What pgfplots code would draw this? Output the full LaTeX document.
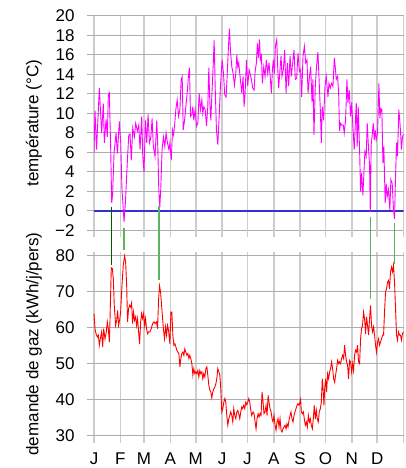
\documentclass[border=0pt]{standalone}
\usepackage{pgfplots}
\pgfplotsset{compat=1.18}
\usepackage{fontspec}
\setmainfont{Liberation Sans}
\definecolor{gridv}{RGB}{205,205,205}
\definecolor{gridh}{RGB}{172,172,172}
\definecolor{zeroblue}{RGB}{50,50,210}
\definecolor{lgreen}{RGB}{95,178,95}
\definecolor{dgreen}{RGB}{0,90,0}
\definecolor{mag}{RGB}{255,0,255}
\definecolor{rd}{RGB}{255,0,0}
\pgfplotsset{
  base/.style={
    scale only axis, width=309.5pt,
    xmin=0, xmax=365,
    axis line style={draw=none},
    grid=major,
    x grid style={gridv, line width=1.5pt},
    y grid style={gridh, line width=1pt},
    xtick={0,31,59,90,120,151,181,212,243,273,304,334,365},
    tick align=outside,
    xtick pos=left, ytick pos=left,
    major tick length=7pt,
    xtick style={gridv, line width=1.5pt},
    ytick style={gridh, line width=1pt},
    font=\fontsize{17}{20}\selectfont,
    ticklabel style={font=\fontsize{17}{20}\selectfont},
    yticklabel style={xshift=-9pt},
    xticklabel style={yshift=-6pt},
    ylabel style={at={(axis description cs:-0.194,0.5)}, anchor=center, font=\fontsize{17}{20}\selectfont},
  }
}
\begin{document}
\begin{tikzpicture}
\useasboundingbox (0pt,0pt) rectangle (405pt,468pt);
\begin{axis}[base, at={(94pt,237.5pt)}, anchor=south west, height=214.5pt,
  ymin=-2, ymax=20, ytick={-2,0,2,4,6,8,10,12,14,16,18,20},
  yticklabels={−2,0,2,4,6,8,10,12,14,16,18,20},
  xticklabels={},
  ylabel={température (°C)}]
\addplot[zeroblue, line width=1.3pt] coordinates {(0,0) (365,0)};
\addplot[mag, line width=0.9pt] coordinates {
(0,6.0)(1.2,10.3)(3,6.3)(6.3,12.6)(9,8)(11,11)(12.2,7)(14.2,9.4)(15.7,7.6)(16.9,11.9)(18.1,12.1)(19.7,6.3)(20.9,0.8)(22,1.8)(23.6,5.9)(26,8)(27.6,5.9)(29.9,9.2)(31.5,7)(33,2.2)(34.6,0.1)(35.4,-1.1)(37,0.8)(39.4,5.2)(41,7.8)(42.5,7.9)(44,5.2)(45.7,8.5)(47.6,7.6)(49.2,9)(51.2,8.2)(52.8,8.8)(54.3,6.3)(56.3,9.7)(57.5,5.6)(59,4.0)(60.6,9.3)(62.2,7)(63.8,9.9)(65.4,7)(67,7.5)(68.5,9.5)(70,6.6)(72,5.6)(74,9.3)(75.2,6.6)(76.4,2.2)(77.6,0.4)(78.7,2.2)(80.3,6.3)(81.9,7.6)(83.5,6.6)(85,8)(86.6,7)
(88.3,6.3)(89.5,7.0)(91.1,5.2)(92.6,8.3)(93.8,7.8)(95,8.7)(96.5,10.4)(98.1,11.4)(99.7,9.7)(101.3,10.4)(102.8,13.5)(104,13.8)(105.2,8.3)(106.8,9.3)(108.3,10.7)(109.9,12.1)(111.5,14)(112.6,14.7)(113.8,9.7)(115.4,9.9)(116.6,10.7)(117.7,9.3)(119.3,10.4)(120.9,8.7)(122.5,9)(124,12.1)(125.6,10.4)(127.2,11.4)(128.3,10)(129.5,10.7)(131.1,10.4)(132.7,8.7)(134.2,10.7)(135.4,14.7)(136.6,11.1)(137.8,9.3)(138.9,11.7)(140.5,14.8)(141.7,17.5)(142.9,12.8)(144.4,8.3)(146,6.8)(147.6,9.7)(149.1,12.8)(151.1,15.5)(152.7,14.1)(154.2,11.9)(155.8,11.7)(157,13.8)(158.6,16.9)(159.7,18.7)(160.9,16.5)(162.5,14.8)(164.1,14.1)(165.6,12.9)(167.2,14.1)(168.4,16)(169.6,14.8)(170.7,15.2)(171.9,14.1)(173.1,13.1)(174.3,12.1)(175.8,13.8)(177,10.7)(178.2,12.1)(179.8,15.5)(181.3,12.8)(182.9,14.5)
(184.1,14.1)(185.6,13.5)(187.2,12.6)(188.8,12.4)(190,14.3)(191.5,15.2)(192.7,17.2)(193.9,15.7)(195.1,17.6)(196.2,15.5)(197.4,15.9)(198.6,13.1)(200.2,14.8)(201.7,13.8)(203.3,15.5)(204.9,14.1)(206.4,15.2)(208,13.5)(209.2,12.1)(210.4,14.5)(211.5,15.5)(212.7,14.1)(213.9,16.9)(215.5,17.6)(216.6,14.8)(217.8,12.6)(219,14.1)(220.6,15.9)(221.7,13.8)(223.3,14.5)(224.9,16.5)(226.5,12.1)(228,15.2)(229.6,12.8)(231.2,15.9)(232.7,13.8)(234.3,15.2)(235.9,16.5)(237.4,13.5)(239,13.6)(240.6,16.2)(242.2,14.3)(243.7,14.5)(244.9,11.7)(246.5,15.9)(248.1,16.9)(249.6,15.2)(251.2,15.5)(252.4,12.1)(253.9,13.6)(255.5,14.8)(257.1,11.2)(258.2,13.5)(259.4,7.8)(261,12.8)(262.6,15)(264.1,16.3)(265.3,13.8)(266.9,10.4)(268.1,7)(269.2,10.7)(270.8,9.3)(272.4,12.8)(273.9,13.8)
(275.9,11.7)(277.1,13.1)(278.7,12.6)(280.2,13.1)(281.8,12.8)(283.4,15.7)(284.5,14.8)(285.7,13.5)(287.3,13.8)(288.5,12.1)(289.6,8.2)(290.8,9)(292.4,8.8)(294,8.8)(295.1,8)(296.7,9.3)(298.3,13.5)(299.5,11.1)(301,12.4)(302.6,9.7)(303.8,11.1)(305.3,8.7)(306.9,6.3)(308.1,8.8)(309.3,11.1)(310.4,6.6)(311.6,10.7)(313.2,6.3)(314.4,2)(315.5,3.9)(317.1,1.6)(318.3,3.9)(319.5,6.1)(321,5.6)(322.2,9)(323.4,7)(325,4.6)(325.8,-0.1)(326.9,6.8)(328.1,7.8)(329.3,9)(330.5,7.3)(331.6,8.3)(332.8,7.3)(334.4,8)(336,13.1)(337.1,9.5)(338.3,10.5)(339.5,10.4)(340.7,4.9)(341.8,6.6)(343.4,0.8)(344.6,2.8)(345.8,1.5)(347.3,2.2)(348.9,0.1)(350.1,3.2)(351.7,2.8)(353.2,0.1)(354.4,-0.8)(355.6,3.5)(356.8,7)(357.9,5.6)(359.5,10.4)(361.1,8.7)(362.6,6.3)(363.8,7.6)(365,7.9)
};
\end{axis}
\begin{axis}[base, at={(94pt,32pt)}, anchor=south west, height=184pt, clip=false,
  ymin=30, ymax=81.1, ytick={30,40,50,60,70,80},
  yticklabels={30,40,50,60,70,80},
  xticklabels={J,F,M,A,M,J,J,A,S,O,N,D,{}},
  ylabel={demande de gaz (kWh/j/pers)}]
\addplot[dgreen, line width=1pt] coordinates {(20.4,93.6) (20.4,77.5)};
\addplot[lgreen, line width=1.3pt] coordinates {(35.3,87.8) (35.3,81.7)};
\addplot[lgreen, line width=1.3pt] coordinates {(76.5,93.9) (76.5,73.3)};
\addplot[lgreen, line width=1.3pt] coordinates {(325.8,90.8) (325.8,68.1)};
\addplot[lgreen, line width=1.3pt] coordinates {(354,89.2) (354,77.7)};
\addplot[rd, line width=0.9pt] coordinates {
(0,64)(1.2,59.8)(2.4,58.4)(3.9,57.5)(5.1,58)(6.3,55.2)(7.5,57)(9,58.9)(10.2,54.7)(11.4,59.8)(13,57)(14.5,58.9)(15.7,61.7)(16.9,59.8)(18.1,56.1)(18.8,61.7)(20.4,76.7)(21.6,76.5)(22.8,73.7)(23.9,66.3)(25.5,60.7)(26.7,62.1)(27.9,64.9)(29,60.7)(30.2,62.1)(31.4,64.4)(33,71.9)(34.5,77.4)(36.1,80)(37.3,78.3)(38.5,71.9)(39.6,61.7)(40.8,65.4)(42,66.3)(43.2,65.8)(44.4,67)(45.5,61.2)(46.7,64.4)(47.9,62.1)(49.1,63.1)(50.2,60.7)(51.4,62.6)(52.6,58.9)(53.8,55.6)(55,61.7)(56.1,64)(57.3,62.6)(58.5,64)(59.7,60.7)(60.8,62.6)(62,59.8)(63.2,58.4)(64.4,58.9)(65.9,58.9)(67.5,59.8)(69.1,61.2)(70.7,61.7)(72.2,61.2)(73.8,61.7)(75,59.8)(76.1,67.7)(77.3,71.7)(78.5,70)(79.7,66.3)(80.9,62.6)(82,59.4)(83.2,57)(84.4,60.3)(85.6,58)(86.7,60.7)(87.9,59.4)(89.5,55.6)(90.7,64.4)(91.8,64.4)(93,58)(94.2,55.2)(95.4,55.6)(96.6,54.7)(97.7,53.8)(98.9,53.3)(100.1,52.9)(101.3,49.2)(102.4,51.5)(103.6,52.9)(104.8,53.3)(106,52.4)(107.1,54.2)(108.3,53.3)(109.5,52.4)(110.7,52.9)(111.9,51.5)(113,52.4)(114.2,51.5)(115.4,50.1)(116.6,46.9)(117.7,48.7)(118.9,47.3)(120.1,47.8)(121.3,47.3)(122.5,48.2)(123.6,46.4)(124.8,48.2)(126,47.3)(127.2,47.8)(128.3,45.9)(129.5,47.3)(130.7,46.4)(131.9,48.7)(133.1,49.2)(134.2,46.9)(135.4,44.1)(136.6,42.7)(137.8,42.2)(138.9,40.6)(140.1,42.2)(141.3,43.1)(142.5,43.6)(143.7,44.5)(144.8,45.9)(146,48.7)(147.2,47.8)(148.4,46.9)(149.5,43.1)(150.7,36.7)(151.9,37.6)(153.1,39.4)(154.3,40.4)(155.4,39.4)(156.6,35.7)(157.8,33)(159,34.8)(160.1,35.7)(161.3,36.7)(162.5,35.7)(163.7,33.9)(164.8,37.6)(166,35.7)(167.2,34.8)(168.4,36.7)(169.6,37.1)(170.7,36.2)(171.9,34.8)(173.1,36.7)(174.3,38.1)(175.4,37.6)(176.6,38.5)(177.8,37.6)(179,39.4)(180.2,38.7)(181.3,39.4)(182.5,40.4)
(183.7,39.4)(184.9,37.1)(186,35.7)(187.6,36.7)(188.8,36.2)(190,33.9)(191.1,32)(192.3,34.8)(193.5,36.2)(194.7,35.3)(195.8,36.2)(197,35.7)(198.2,42.2)(199.4,39.4)(200.5,36.2)(201.7,36.7)(202.9,38.5)(204.1,35.7)(205.3,41.3)(206.4,39.4)(207.6,37.6)(208.8,36.7)(210,34.8)(211.1,33.9)(212.3,35.7)(213.5,33)(214.7,31.6)(215.9,33.9)(217,34.8)(218.2,32.5)(219.4,34.8)(220.6,31.6)(221.7,31.1)(222.9,32)(224.1,32.5)(225.3,33)(226.5,32)(227.6,33.4)(228.8,32.5)(230,34.4)(231.2,35.7)(232.3,36.7)(233.5,34.8)(234.7,33.9)(235.9,35.7)(237.1,36.7)(238.2,37.6)(239.4,38.5)(240.6,39)(241.8,38.5)(243,39.4)(243.7,40.2)(244.5,36.7)(245.7,36.2)(246.9,36.7)(248,34.8)(249.2,33)(250.4,33.9)(251.6,32.5)(252.8,35.7)(254,33.9)(255.1,34.8)(256.3,33)(257.5,32)(258.6,34.8)(259.8,38.5)(261,34.8)(262.2,37.1)(263.3,34.8)(264.5,33.9)(265.7,36.7)(266.9,37.6)(268.1,39.4)(269.2,45.9)(270.4,42.2)(271.2,38.5)(272,43.1)(273.2,45.9)(274.3,42.2)(275.5,47.3)(276.7,45.9)(277.9,47.8)(279,48.7)(280.2,50.6)(281.4,48.7)(282.6,45.9)(283.8,44.9)(284.9,46.9)(286.1,48.7)(287.3,51)(288.5,50.1)(289.6,50.6)(290.8,50.1)(292,51.5)(293.2,52.4)(294.4,51.5)(295.5,55.2)(296.7,52.4)(297.9,50.6)(299.1,49.6)(300.2,45.9)(301.4,51)(302.6,50.6)(303.8,47.8)(305,50.1)(306.1,48.2)(307.3,52.4)(308.5,53.8)(309.7,53.3)(310.8,55.2)(312,50.6)(313.2,50.1)(314.4,57)(315.5,59.8)(316.7,60.7)(317.9,64.4)(319.1,62.6)(320.3,58.4)(321.4,63.1)(322.6,60.7)(323.8,58)(325,62.6)(326.1,66.3)(327.3,60.7)(328.5,58.9)(329.7,60.3)(330.9,58)(332,55.2)(333.2,53.3)(334.4,56.1)(335.6,57)(336.7,55.2)(337.9,56.1)(339.1,57)(340.3,58)(341.5,58)(342.6,64.4)(343.8,70)(345,70.9)(346.2,72.8)(347.3,73.2)(348.5,70.9)(349.7,75.6)(350.9,76.9)(352.1,75.6)(353.2,77.4)(354.4,72.8)(355.6,65.4)(356.8,58)(357.9,56.6)(359.1,58.9)(360.3,58)(361.5,58)(362.6,56.6)(363.8,58.4)(365,58.9)
};
\end{axis}
\end{tikzpicture}
\end{document}
